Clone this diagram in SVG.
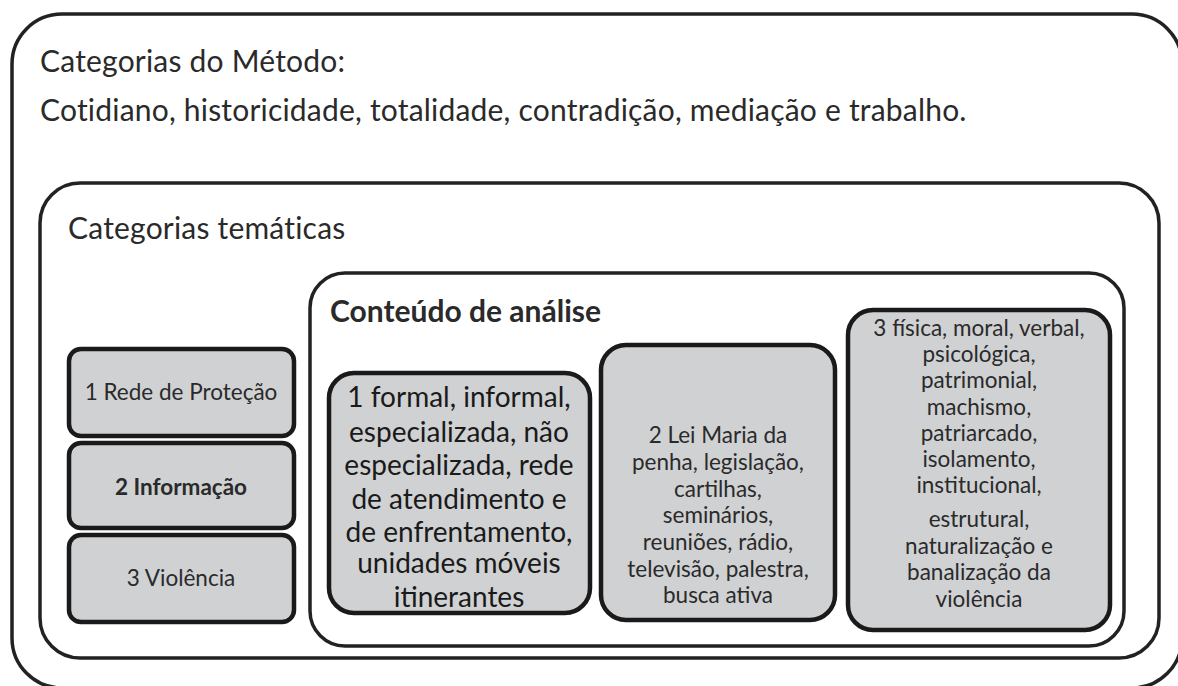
<svg xmlns="http://www.w3.org/2000/svg" width="1178" height="686" viewBox="0 0 1178 686">
<style>
.frame{fill:#fff;stroke:#222;stroke-width:3.5}
.cat{fill:#d0d1d3;stroke:#1a1a1a;stroke-width:4.5}
text{font-family:Lato,"Open Sans","Liberation Sans",sans-serif;fill:#2a2a2a}
.h{font-size:30px;letter-spacing:0.2px}
.c{text-anchor:middle}
.s22{font-size:22.5px}
.s28{font-size:28px;fill:#1a1a1a}
.b{font-weight:bold}
</style>
<rect width="1178" height="686" fill="#fff"/>
<g id="metodo">
<rect class="frame" x="12" y="14" width="1170" height="674" rx="50"/>
<text class="h" x="40" y="72">Categorias do Método:</text>
<text class="h" x="40" y="121">Cotidiano, historicidade, totalidade, contradição, mediação e trabalho.</text>
</g>
<g id="tematicas">
<rect class="frame" x="40" y="183" width="1119" height="475" rx="40"/>
<text class="h" x="68" y="239">Categorias temáticas</text>
</g>
<g id="conteudo">
<rect class="frame" x="310" y="273" width="814" height="373" rx="35"/>
<text class="h b" x="330" y="322" style="letter-spacing:0">Conteúdo de análise</text>
</g>
<g id="cat1">
<rect class="cat" x="69" y="349" width="225" height="87" rx="12"/>
<text class="s22 c" x="181" y="400">1 Rede de Proteção</text>
</g>
<g id="cat2">
<rect class="cat" x="69" y="443" width="225" height="85" rx="12"/>
<text class="s22 c b" x="181" y="495">2 Informação</text>
</g>
<g id="cat3">
<rect class="cat" x="69" y="535" width="225" height="87" rx="12"/>
<text class="s22 c" x="181" y="586">3 Violência</text>
</g>
<g id="cont1">
<rect class="cat" x="329" y="373" width="261" height="240" rx="25"/>
<text class="s28 c" x="459" y="407">1 formal, informal,</text>
<text class="s28 c" x="459" y="442">especializada, não</text>
<text class="s28 c" x="459" y="475">especializada, rede</text>
<text class="s28 c" x="459" y="509">de atendimento e</text>
<text class="s28 c" x="459" y="542">de enfrentamento,</text>
<text class="s28 c" x="459" y="573">unidades móveis</text>
<text class="s28 c" x="459" y="607">itinerantes</text>
</g>
<g id="cont2">
<rect class="cat" x="601" y="345" width="234" height="275" rx="25"/>
<text class="s22 c" x="718" y="443">2 Lei Maria da</text>
<text class="s22 c" x="718" y="470">penha, legislação,</text>
<text class="s22 c" x="718" y="497">cartilhas,</text>
<text class="s22 c" x="718" y="523">seminários,</text>
<text class="s22 c" x="718" y="550">reuniões, rádio,</text>
<text class="s22 c" x="718" y="577">televisão, palestra,</text>
<text class="s22 c" x="718" y="603">busca ativa</text>
</g>
<g id="cont3">
<rect class="cat" x="848" y="310" width="262" height="320" rx="25"/>
<text class="s22 c" x="979" y="336">3 física, moral, verbal,</text>
<text class="s22 c" x="979" y="362">psicológica,</text>
<text class="s22 c" x="979" y="388">patrimonial,</text>
<text class="s22 c" x="979" y="415">machismo,</text>
<text class="s22 c" x="979" y="441">patriarcado,</text>
<text class="s22 c" x="979" y="467">isolamento,</text>
<text class="s22 c" x="979" y="493">institucional,</text>
<text class="s22 c" x="979" y="527">estrutural,</text>
<text class="s22 c" x="979" y="554">naturalização e</text>
<text class="s22 c" x="979" y="580">banalização da</text>
<text class="s22 c" x="979" y="607">violência</text>
</g>
<g id="connectors"></g>
</svg>
